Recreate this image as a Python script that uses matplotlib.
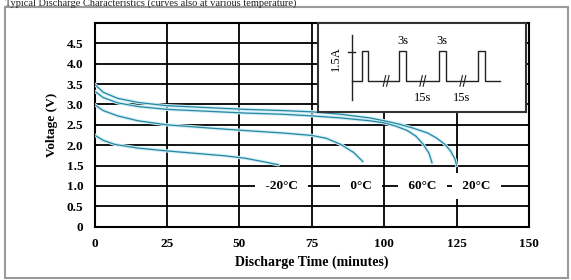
import numpy as np
import matplotlib
matplotlib.use('Agg')
import matplotlib.pyplot as plt
from matplotlib.patches import Rectangle

plt.rcParams['font.family'] = ['Liberation Serif', 'DejaVu Serif']
plt.rcParams['font.weight'] = 'bold'

# discharge curves (minutes, volts)
t_20 = [0, 3, 8, 15, 25, 40, 52, 65, 75, 85, 95, 100, 105, 110, 115, 118, 121, 123, 124.5, 125]
v_20 = [3.5, 3.3, 3.15, 3.05, 2.97, 2.92, 2.88, 2.85, 2.82, 2.76, 2.67, 2.6, 2.52, 2.42, 2.3, 2.18, 2.02, 1.85, 1.65, 1.5]
t_60 = [0, 3, 8, 15, 25, 40, 52, 65, 75, 85, 95, 100, 104, 108, 111, 113.5, 115.5, 116.5]
v_60 = [3.33, 3.17, 3.04, 2.95, 2.88, 2.83, 2.79, 2.76, 2.72, 2.67, 2.6, 2.55, 2.47, 2.36, 2.22, 2.02, 1.8, 1.57]
t_0 = [0, 3, 8, 15, 25, 40, 52, 65, 75, 80, 85, 89.5, 92.6]
v_0 = [3.0, 2.85, 2.72, 2.6, 2.5, 2.42, 2.36, 2.3, 2.24, 2.17, 2.02, 1.82, 1.6]
t_m20 = [0, 3, 7, 15, 25, 35, 45, 52, 58, 63.5]
v_m20 = [2.25, 2.12, 2.02, 1.93, 1.86, 1.8, 1.74, 1.68, 1.6, 1.52]

temp_labels = ['-20\u00b0C', '0\u00b0C', '60\u00b0C', '20\u00b0C']
temp_label_x = [64.6, 92, 113.3, 132]

x_ticks = [0, 25, 50, 75, 100, 125, 150]
y_ticks = [0, 0.5, 1.0, 1.5, 2.0, 2.5, 3.0, 3.5, 4.0, 4.5]
y_ticklabels = ['0', '0.5', '1.0', '1.5', '2.0', '2.5', '3.0', '3.5', '4.0', '4.5']

# inset pulse schematic (inset units 0-100)
pulse_starts = [21.0, 39.1, 58.2, 77.0]
pulse_width = 3.2
break_marks = [32.7, 50.3, 69.6]

fig = plt.figure(figsize=(5.71, 2.80), dpi=100)
W, H = 571, 280
ax = fig.add_axes([94.5 / W, 1 - 226.7 / H, (529 - 94.5) / W, (226.7 - 23) / H])

line_c = '#2a87a0'
halo_c = '#cdeef7'
for t, v in [(t_20, v_20), (t_60, v_60), (t_0, v_0), (t_m20, v_m20)]:
    ax.plot(t, v, color=halo_c, lw=2.4, solid_capstyle='round', zorder=3)
    ax.plot(t, v, color=line_c, lw=0.9, zorder=4)

ax.set_xlim(0, 150)
ax.set_ylim(0, 5)
ax.set_xticks(x_ticks)
ax.set_yticks(y_ticks)
ax.set_yticklabels(y_ticklabels)
ax.tick_params(length=0, labelsize=9.5, pad=8)
for lab in ax.get_xticklabels() + ax.get_yticklabels():
    lab.set_fontweight('bold')
ax.grid(True, color='black', lw=1.3, zorder=1)
ax.set_axisbelow(True)
for s in ax.spines.values():
    s.set_linewidth(1.5)
ax.set_xlabel('Discharge Time (minutes)', fontsize=10, fontweight='bold', labelpad=4)
ax.set_ylabel('Voltage (V)', fontsize=9.5, fontweight='bold', labelpad=6)

for lab, xl in zip(temp_labels, temp_label_x):
    ax.text(xl, 1.0, ' ' + lab + ' ', ha='center', va='center', fontsize=9.5,
            fontweight='bold', zorder=5,
            bbox=dict(facecolor='white', edgecolor='none', pad=5))

# inset
ins = ax.inset_axes([77.2, 2.82, 71.8, 2.18], transform=ax.transData, zorder=6)
ins.set_xlim(0, 100)
ins.set_ylim(0, 100)
ins.set_xticks([])
ins.set_yticks([])
ins.set_facecolor('white')
for s in ins.spines.values():
    s.set_linewidth(1.5)
    s.set_color('#333333')
base = 34.8
top = 68.5
wx = [16.2]
wy = [base]
for p in pulse_starts:
    wx += [p, p, p + pulse_width, p + pulse_width]
    wy += [base, top, top, base]
wx.append(87.5)
wy.append(base)
ins.plot(wx, wy, color='#222222', lw=1.0)
ins.plot([16.2, 16.2], [13.5, 86.5], color='#222222', lw=1.0)
ins.plot([14.6, 17.8], [67.8, 67.8], color='#222222', lw=1.0)
for b in break_marks:
    ins.plot([b - 1.4, b - 0.2], [base - 6, base + 6], color='#222222', lw=0.8)
    ins.plot([b + 0.2, b + 1.4], [base - 6, base + 6], color='#222222', lw=0.8)
for xs in [41.0, 59.5]:
    ins.text(xs, 73, '3s', ha='center', va='bottom', fontsize=9, fontweight='normal')
for xs in [50.0, 69.1]:
    ins.text(xs, 16, '15s', ha='center', va='center', fontsize=9, fontweight='normal')
ins.text(8.6, 60, '1.5A', ha='center', va='center', rotation=90, fontsize=9, fontweight='normal')

# outer frame and caption
fig.patches.append(Rectangle((5 / W, 1 - 278 / H), 563 / W, 271 / H, transform=fig.transFigure,
                             fill=False, edgecolor='#9a9a9a', lw=1.5))
fig.text(5 / W, 1 - 6 / H, 'Typical Discharge Characteristics (curves also at various temperature)',
         fontsize=7.5, fontweight='normal', va='baseline', ha='left', color='#222222')

fig.savefig('out.png', dpi=100)
